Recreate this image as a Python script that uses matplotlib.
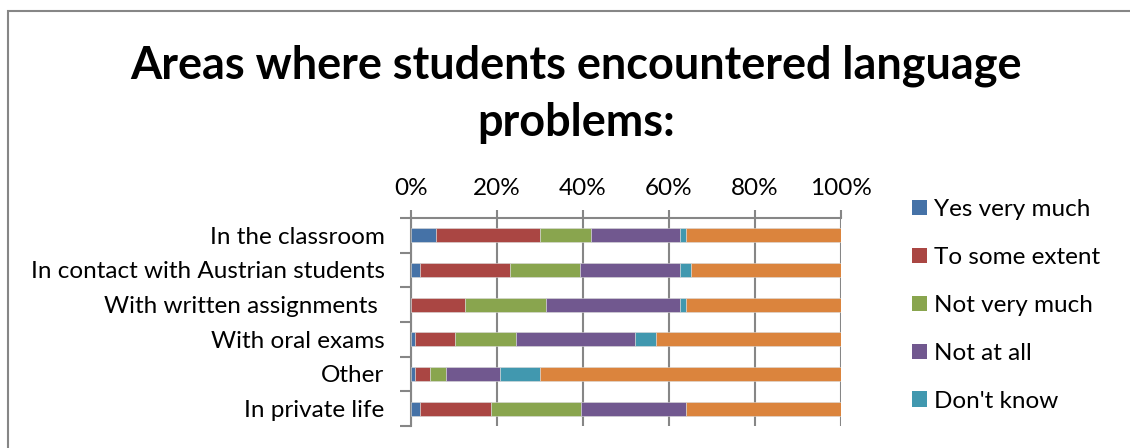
import numpy as np
import matplotlib.pyplot as plt
from matplotlib.patches import Rectangle, Patch

plt.rcParams['font.family'] = ['Lato', 'DejaVu Sans']

# survey answers, share of respondents in %
areas = ['In the classroom', 'In contact with Austrian students', 'With written assignments ',
         'With oral exams', 'Other', 'In private life']
answers = ['Yes very much', 'To some extent', 'Not very much', 'Not at all', "Don't know", 'No answer']
yes_very_much = [5.7, 2.2, 0.0, 1.0, 1.0, 2.2]
to_some_extent = [24.3, 20.8, 12.6, 9.2, 3.4, 16.3]
not_very_much = [11.8, 16.4, 18.7, 14.2, 3.7, 21.0]
not_at_all = [20.8, 23.2, 31.3, 27.8, 12.7, 24.4]
dont_know = [1.3, 2.4, 1.3, 4.7, 9.3, 0.0]
no_answer = [36.1, 35.0, 36.1, 43.1, 69.9, 36.1]

colors = ['#4572A7', '#AA4643', '#89A54E', '#71588F', '#4198AF', '#DB843D']
series = [yes_very_much, to_some_extent, not_very_much, not_at_all, dont_know, no_answer]
fs = 17.5

fig = plt.figure(figsize=(11.3, 4.48), dpi=100)
fig.patches.append(Rectangle((8 / 1130, -0.1), 1.2, (448 - 11) / 448 + 0.1, transform=fig.transFigure,
                             fill=False, edgecolor='#868686', linewidth=1.5))

ax = fig.add_axes([411 / 1130, 22 / 448, 430 / 1130, 208 / 448])
y = np.arange(len(areas))
left = np.zeros(len(areas))
handles = []
for name, vals, c in zip(answers, series, colors):
    vals = np.array(vals)
    ax.barh(y, vals, left=left, height=0.4, color=c, edgecolor='#d9d9d9', linewidth=0.4, zorder=3)
    left += vals
    handles.append(Patch(facecolor=c, label=name))

ax.set_xlim(0, 100)
ax.set_ylim(len(areas) - 0.5, -0.5)
ax.set_xticks(np.arange(0, 101, 20))
ax.set_xticklabels([f'{v}%' for v in range(0, 101, 20)])
ax.xaxis.tick_top()
ax.tick_params(axis='x', which='major', length=6, width=1.5, color='#868686', pad=8, labelsize=fs)
ax.set_yticks(y)
ax.set_yticklabels(areas)
ax.set_yticks(np.arange(-0.5, len(areas)), minor=True)
ax.tick_params(axis='y', which='major', length=0, pad=19, labelsize=fs)
ax.tick_params(axis='y', which='minor', length=8, width=1.5, color='#868686')
ax.grid(axis='x', color='#868686', linewidth=1.5, zorder=0)
for side in ['right', 'bottom']:
    ax.spines[side].set_visible(False)
for side in ['left', 'top']:
    ax.spines[side].set_color('#868686')
    ax.spines[side].set_linewidth(1.5)

fig.text(576 / 1130, 1 - 94 / 448, 'Areas where students encountered language\nproblems:',
         ha='center', va='center', fontsize=32.4, fontweight='bold', linespacing=1.43)

# the sixth series runs past the bottom edge, so only five entries are listed
fig.legend(handles=handles[:5], loc='upper left', bbox_to_anchor=(912 / 1130, 1 - 199 / 448),
           frameon=False, fontsize=fs, handlelength=0.62, handleheight=0.62, handletextpad=0.3,
           labelspacing=1.11, borderaxespad=0, borderpad=0)

fig.savefig('out.png', dpi=100)
